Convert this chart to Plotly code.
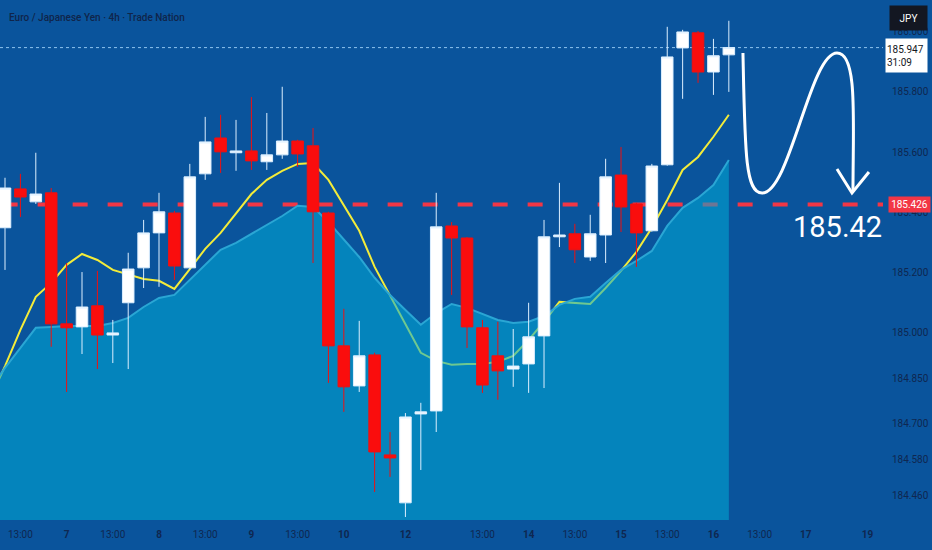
import plotly.graph_objects as go

# EUR/JPY 4h candles
open_ = [185.349, 185.478, 185.435, 185.465, 185.030, 185.020, 185.090, 184.993, 185.100, 185.216,
         185.332, 185.398, 185.216, 185.528, 185.647, 185.598, 185.604, 185.568, 185.591, 185.637,
         185.621, 185.398, 184.957, 184.824, 184.927, 184.595, 184.436, 184.731, 184.741, 185.355,
         185.315, 185.017, 184.924, 184.880, 184.897, 184.990, 185.319, 185.329, 185.252, 185.325,
         185.524, 185.428, 185.339, 185.558, 185.946, 185.996, 185.866, 185.923]
high = [185.515, 185.528, 185.598, 185.481, 185.232, 185.202, 185.206, 185.043, 185.266, 185.375,
        185.465, 185.405, 185.561, 185.717, 185.724, 185.707, 185.783, 185.730, 185.817, 185.641,
        185.680, 185.402, 185.080, 185.040, 184.934, 184.671, 184.734, 184.768, 185.465, 185.368,
        185.318, 185.043, 185.037, 185.013, 185.100, 185.375, 185.498, 185.362, 185.392, 185.578,
        185.617, 185.432, 185.561, 186.016, 186.006, 186.002, 185.976, 186.036]
low = [185.209, 185.385, 185.428, 184.954, 184.804, 184.930, 184.880, 184.900, 184.880, 185.149,
       185.153, 185.176, 185.210, 185.508, 185.531, 185.538, 185.541, 185.541, 185.578, 185.551,
       185.232, 184.834, 184.738, 184.804, 184.472, 184.522, 184.389, 184.545, 184.671, 185.126,
       184.950, 184.801, 184.778, 184.821, 184.801, 184.817, 185.285, 185.232, 185.239, 185.232,
       185.335, 185.219, 185.336, 185.555, 185.777, 185.830, 185.790, 185.800]
close = [185.481, 185.451, 185.461, 185.030, 185.017, 185.086, 184.993, 185.000, 185.212, 185.332,
         185.402, 185.222, 185.518, 185.634, 185.601, 185.604, 185.571, 185.591, 185.637, 185.594,
         185.402, 184.957, 184.821, 184.924, 184.605, 184.585, 184.721, 184.738, 185.352, 185.315,
         185.020, 184.827, 184.874, 184.890, 184.987, 185.319, 185.325, 185.276, 185.329, 185.518,
         185.418, 185.332, 185.554, 185.916, 185.999, 185.866, 185.920, 185.947]
candle_x = list(range(len(close)))

# moving averages (first value is the bar just off the left edge)
ma_x = list(range(-1, len(close)))
fast_ma = [184.778, 184.890, 185.010, 185.120, 185.166, 185.226, 185.262, 185.242, 185.209, 185.193,
           185.179, 185.173, 185.146, 185.212, 185.279, 185.332, 185.395, 185.461, 185.508, 185.538,
           185.561, 185.564, 185.508, 185.425, 185.339, 185.219, 185.123, 185.027, 184.934, 184.907,
           184.894, 184.897, 184.897, 184.904, 184.924, 184.977, 185.037, 185.103, 185.100, 185.096,
           185.149, 185.206, 185.269, 185.349, 185.441, 185.541, 185.584, 185.651, 185.724]
slow_ma = [184.811, 184.884, 184.950, 185.017, 185.020, 185.023, 185.023, 185.023, 185.033, 185.050,
           185.086, 185.116, 185.126, 185.176, 185.229, 185.276, 185.299, 185.329, 185.359, 185.388,
           185.422, 185.418, 185.368, 185.309, 185.252, 185.183, 185.126, 185.076, 185.027, 185.066,
           185.096, 185.083, 185.063, 185.043, 185.033, 185.037, 185.056, 185.093, 185.113, 185.120,
           185.166, 185.209, 185.239, 185.272, 185.355, 185.415, 185.448, 185.491, 185.574]

# axis ticks
x_tickvals = [1, 4, 7, 10, 13, 16, 19, 22, 26, 31, 34, 37, 40, 43, 46, 49, 52, 56]
x_ticktext = ["13:00", "<b>7</b>", "13:00", "<b>8</b>", "13:00", "<b>9</b>", "13:00", "<b>10</b>",
              "<b>12</b>", "13:00", "<b>14</b>", "13:00", "<b>15</b>", "13:00", "<b>16</b>",
              "13:00", "<b>17</b>", "<b>19</b>"]
y_tickvals = [186.0, 185.8, 185.6, 185.4, 185.2, 185.0, 184.85, 184.7, 184.58, 184.46]
y_ticktext = ["186.000", "185.800", "185.600", "185.400", "185.200", "185.000",
              "184.850", "184.700", "184.580", "184.460"]

last_price = 185.947
target = 185.426

bg = "#0a549c"
axis_txt = "#0f2750"
font_name = "Roboto, Liberation Sans, sans-serif"
x_range = [-0.325, 57.01]
y_range = [184.379, 186.105]

fig = go.Figure()

fig.add_trace(go.Scatter(x=ma_x, y=fast_ma, mode="lines",
                         line=dict(color="#f3ec3a", width=2), hoverinfo="skip"))
fig.add_trace(go.Scatter(x=ma_x, y=slow_ma, mode="lines", fill="tozeroy",
                         fillcolor="rgba(0,172,215,0.55)",
                         line=dict(color="#2aa6d4", width=2), hoverinfo="skip"))
fig.add_trace(go.Candlestick(
    x=candle_x, open=open_, high=high, low=low, close=close, yaxis="y2",
    increasing=dict(fillcolor="#ffffff", line=dict(color="#dcefff", width=1)),
    decreasing=dict(fillcolor="#fa0d0d", line=dict(color="#f01010", width=1)),
    whiskerwidth=0,
))

# price lines
fig.add_shape(type="line", xref="paper", yref="y", x0=0, x1=1, y0=last_price, y1=last_price,
              line=dict(color="#8fc3ee", width=1, dash="dot"), layer="below")
fig.add_shape(type="line", xref="paper", yref="y", x0=0.003, x1=1, y0=target, y1=target,
              line=dict(color="#f23645", width=4, dash="15px,20px"), layer="below")

# hand drawn arrow
fig.add_shape(type="path", xref="paper", yref="paper",
              path="M 0.8414,0.8981 C 0.8437,0.7115 0.8437,0.6288 0.8630,0.6288 "
                   "C 0.8947,0.6288 0.9173,0.8981 0.9479,0.8981 "
                   "C 0.9717,0.8981 0.9660,0.7692 0.9660,0.6308",
              line=dict(color="white", width=3), layer="above")
fig.add_shape(type="path", xref="paper", yref="paper",
              path="M 0.9479,0.6750 L 0.9649,0.6288 L 0.9841,0.6692",
              line=dict(color="white", width=3), layer="above")

fig.add_annotation(text="185.42", xref="paper", yref="paper", x=0.9485, y=0.5635,
                   xanchor="center", yanchor="middle", showarrow=False,
                   font=dict(family=font_name, size=29, color="white"))
fig.add_annotation(text="Euro / Japanese Yen · 4h · Trade Nation", xref="paper", yref="paper",
                   x=0.008, y=0.967, xanchor="left", yanchor="middle", showarrow=False,
                   font=dict(family=font_name, size=10, color="#10254a", weight=500))

# right axis labels
fig.add_annotation(text="JPY", xref="paper", yref="paper", x=1.0289, y=0.965,
                   xanchor="center", yanchor="middle", showarrow=False,
                   bgcolor="#131722", width=35, height=22, font=dict(family=font_name, size=10, color="white"))
fig.add_annotation(text="185.947<br>31:09", xref="paper", yref="paper", x=1.0266, y=0.8933,
                   xanchor="center", yanchor="middle", showarrow=False,
                   bgcolor="white", width=39, height=31, align="left",
                   font=dict(family=font_name, size=10, color="#131722"))
fig.add_annotation(text="185.426", xref="paper", yref="y", x=1.03, y=target,
                   xanchor="center", yanchor="middle", showarrow=False,
                   bgcolor="#f23645", width=39, height=13, font=dict(family=font_name, size=10, color="white"))

fig.update_layout(
    width=932, height=550,
    margin=dict(l=0, r=49, t=0, b=30),
    paper_bgcolor=bg, plot_bgcolor=bg,
    showlegend=False,
    boxgap=0.25, boxgroupgap=0,
    xaxis=dict(range=x_range, tickvals=x_tickvals, ticktext=x_ticktext, showgrid=False,
               zeroline=False, showline=False, ticks="", rangeslider=dict(visible=False),
               ticklabelstandoff=7,
               tickfont=dict(family=font_name, size=10, color=axis_txt)),
    yaxis=dict(range=y_range, side="right", tickvals=y_tickvals, ticktext=y_ticktext,
               showgrid=False, zeroline=False, showline=False, ticks="", ticklabelstandoff=8,
               tickfont=dict(family=font_name, size=10, color=axis_txt)),
    yaxis2=dict(range=y_range, overlaying="y", side="right", visible=False),
)

fig.write_html("out.html", config={"displayModeBar": False},
               post_script="document.body.style.margin='0px';")
